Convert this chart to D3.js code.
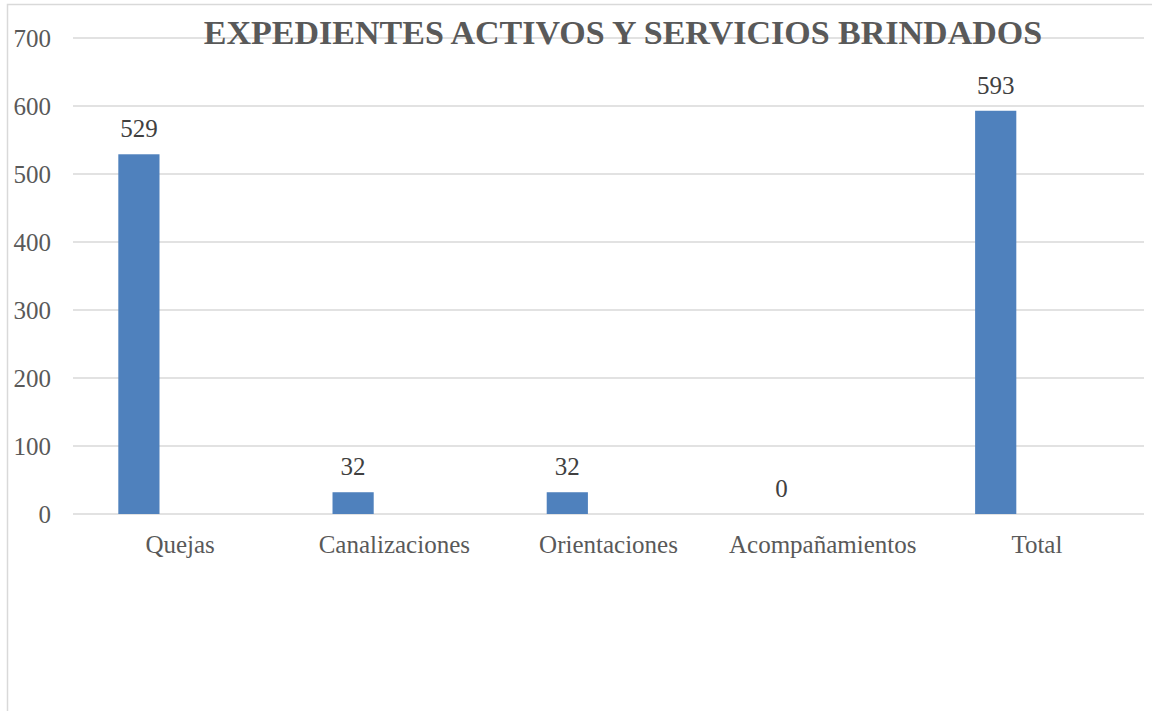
<!DOCTYPE html>
<html>
<head>
<meta charset="utf-8">
<script src="https://cdn.jsdelivr.net/npm/d3@7"></script>
<style>
  body { margin: 0; background: #fff; }
  svg { display: block; }
</style>
</head>
<body>
<svg id="chart"></svg>
<script>
var width = 1152;
var height = 711;

var title = "EXPEDIENTES ACTIVOS Y SERVICIOS BRINDADOS";
var categories = ["Quejas", "Canalizaciones", "Orientaciones", "Acompañamientos", "Total"];
var values = [529, 32, 32, 0, 593];
var yTicks = [0, 100, 200, 300, 400, 500, 600, 700];

var margin = {left: 73, right: 8, top: 38, bottom: 197};
var fontFamily = "'Liberation Serif', 'Times New Roman', serif";

var svg = d3.select("#chart")
    .attr("width", width)
    .attr("height", height);

// outer chart frame (only top and left show in the picture)
svg.append("rect")
    .attr("x", 7.5)
    .attr("y", 4.5)
    .attr("width", width + 20)
    .attr("height", height + 20)
    .style("fill", "none")
    .style("stroke", "#d9d9d9")
    .style("stroke-width", 1.5);

var x = d3.scaleBand()
    .domain(categories)
    .range([margin.left, width - margin.right]);

// excel style cluster: three slots per category, data sits in the first
var slot = d3.scaleBand()
    .domain([0, 1, 2])
    .range([0, x.bandwidth()])
    .paddingOuter(1.1);

var y = d3.scaleLinear()
    .domain([0, 700])
    .range([height - margin.bottom, margin.top]);

// gridlines
svg.append("g")
    .selectAll("line")
    .data(yTicks)
    .enter()
    .append("line")
    .attr("x1", margin.left)
    .attr("x2", width - margin.right)
    .attr("y1", function (d) { return y(d); })
    .attr("y2", function (d) { return y(d); })
    .style("stroke", "#d9d9d9")
    .style("stroke-width", 1.5);

// y axis labels
var yAxis = svg.append("g")
    .attr("transform", "translate(" + (margin.left - 22) + ",0)")
    .call(d3.axisLeft(y).tickValues(yTicks).tickSize(0).tickPadding(0));
yAxis.select(".domain").remove();
yAxis.selectAll("text")
    .style("font-family", fontFamily)
    .style("font-size", "25px")
    .style("fill", "#595959");

// x axis labels
var xAxis = svg.append("g")
    .attr("transform", "translate(0," + y(0) + ")")
    .call(d3.axisBottom(x).tickSize(0).tickPadding(21));
xAxis.select(".domain").remove();
xAxis.selectAll("text")
    .style("font-family", fontFamily)
    .style("font-size", "25px")
    .style("fill", "#595959");

// bars
svg.append("g")
    .selectAll("rect")
    .data(values)
    .enter()
    .append("rect")
    .attr("x", function (d, i) { return x(categories[i]) + slot(0); })
    .attr("y", function (d) { return y(d); })
    .attr("width", slot.bandwidth())
    .attr("height", function (d) { return y(0) - y(d); })
    .style("fill", "#4f81bd");

// value labels
svg.append("g")
    .selectAll("text")
    .data(values)
    .enter()
    .append("text")
    .attr("x", function (d, i) { return x(categories[i]) + slot(0) + slot.bandwidth() / 2; })
    .attr("y", function (d) { return y(d) - 17; })
    .attr("text-anchor", "middle")
    .text(function (d) { return d; })
    .style("font-family", fontFamily)
    .style("font-size", "25px")
    .style("fill", "#404040");

// title
svg.append("text")
    .attr("x", 623)
    .attr("y", 44)
    .attr("text-anchor", "middle")
    .text(title)
    .style("font-family", fontFamily)
    .style("font-weight", "bold")
    .style("font-size", "34px")
    .style("fill", "#595959");
</script>
</body>
</html>
